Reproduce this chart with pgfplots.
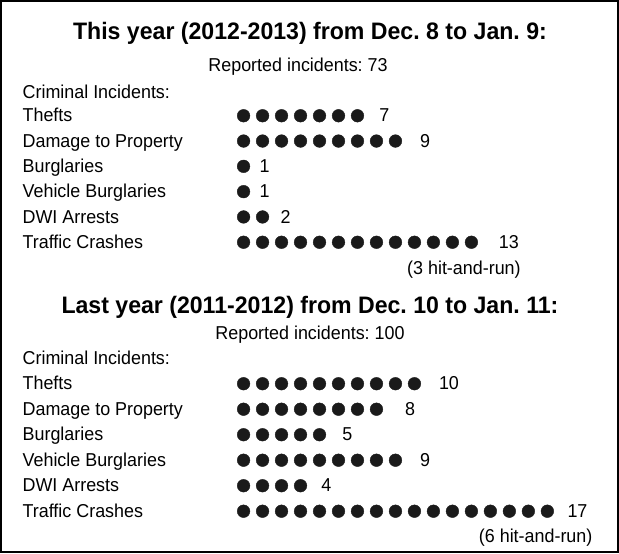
\documentclass[border=0pt]{standalone}
\usepackage{pgfplots}
\pgfplotsset{compat=1.18}
\usepackage{fontspec}
\setmainfont{Liberation Sans}
\newfontfamily\labfont{Liberation Sans}[FakeStretch=0.96]
\newfontfamily\ttlfont{Liberation Sans}[FakeStretch=0.97]
\definecolor{ink}{HTML}{1A1A1A}
\newcommand{\ttl}{\ttlfont\bfseries\fontsize{24}{28}\selectfont}
\newcommand{\lab}{\labfont\fontsize{18.8}{22}\selectfont}
\frenchspacing
\begin{document}
\begin{tikzpicture}
% text layer (pixel units)
\begin{axis}[
  scale only axis, width=619bp, height=553bp,
  xmin=0, xmax=619, ymin=0, ymax=553, y dir=reverse,
  axis line style={line width=2.4bp, black},
  ticks=none, clip=false,
  every node/.style={text=ink, inner sep=0pt},
]
\node[anchor=base] at (axis cs:310,38.5) {\ttl This year (2012-2013) from Dec. 8 to Jan. 9:};
\node[anchor=base] at (axis cs:298,71) {\lab Reported incidents: 73};
\node[anchor=base west] at (axis cs:18,97.3) {\lab Criminal Incidents:};
\node[anchor=base west] at (axis cs:18,121.2) {\lab Thefts};
\node[anchor=base west] at (axis cs:18,146.6) {\lab Damage to Property};
\node[anchor=base west] at (axis cs:18,172) {\lab Burglaries};
\node[anchor=base west] at (axis cs:18,197.4) {\lab Vehicle Burglaries};
\node[anchor=base west] at (axis cs:18,222.8) {\lab DWI Arrests};
\node[anchor=base west] at (axis cs:18,248.2) {\lab Traffic Crashes};
\node[anchor=base east] at (axis cs:525,274) {\lab (3 hit-and-run)};
\node[anchor=base west] at (axis cs:376,121.2) {\lab 7};
\node[anchor=base west] at (axis cs:417,146.6) {\lab 9};
\node[anchor=base west] at (axis cs:256,172) {\lab 1};
\node[anchor=base west] at (axis cs:256,197.4) {\lab 1};
\node[anchor=base west] at (axis cs:277,222.8) {\lab 2};
\node[anchor=base west] at (axis cs:496,248.2) {\lab 13};
%
\node[anchor=base] at (axis cs:310,313.5) {\ttl Last year (2011-2012) from Dec. 10 to Jan. 11:};
\node[anchor=base] at (axis cs:310,339.5) {\lab Reported incidents: 100};
\node[anchor=base west] at (axis cs:18,364.5) {\lab Criminal Incidents:};
\node[anchor=base west] at (axis cs:18,390.2) {\lab Thefts};
\node[anchor=base west] at (axis cs:18,415.8) {\lab Damage to Property};
\node[anchor=base west] at (axis cs:18,441.4) {\lab Burglaries};
\node[anchor=base west] at (axis cs:18,467) {\lab Vehicle Burglaries};
\node[anchor=base west] at (axis cs:18,492.6) {\lab DWI Arrests};
\node[anchor=base west] at (axis cs:18,518.2) {\lab Traffic Crashes};
\node[anchor=base east] at (axis cs:597,543.5) {\lab (6 hit-and-run)};
\node[anchor=base west] at (axis cs:436,390.2) {\lab 10};
\node[anchor=base west] at (axis cs:402,415.8) {\lab 8};
\node[anchor=base west] at (axis cs:339,441.4) {\lab 5};
\node[anchor=base west] at (axis cs:417,467) {\lab 9};
\node[anchor=base west] at (axis cs:318,492.6) {\lab 4};
\node[anchor=base west] at (axis cs:565,518.2) {\lab 17};
\end{axis}
% dot layer (x in dot-count units, y in pixel rows)
\begin{axis}[
  scale only axis, width=619bp, height=553bp,
  xmin=-11.765, xmax=20.711, ymin=0, ymax=553, y dir=reverse,
  hide axis, clip=false,
]
\pgfplotsset{dot/.style={only marks, mark=*, mark size=6.4, color=ink}}
% This year
\addplot[dot] coordinates {(1,115)(2,115)(3,115)(4,115)(5,115)(6,115)(7,115)};
\addplot[dot] coordinates {(1,140.4)(2,140.4)(3,140.4)(4,140.4)(5,140.4)(6,140.4)(7,140.4)(8,140.4)(9,140.4)};
\addplot[dot] coordinates {(1,165.8)};
\addplot[dot] coordinates {(1,191.2)};
\addplot[dot] coordinates {(1,216.6)(2,216.6)};
\addplot[dot] coordinates {(1,242)(2,242)(3,242)(4,242)(5,242)(6,242)(7,242)(8,242)(9,242)(10,242)(11,242)(12,242)(13,242)};
% Last year
\addplot[dot] coordinates {(1,384)(2,384)(3,384)(4,384)(5,384)(6,384)(7,384)(8,384)(9,384)(10,384)};
\addplot[dot] coordinates {(1,409.6)(2,409.6)(3,409.6)(4,409.6)(5,409.6)(6,409.6)(7,409.6)(8,409.6)};
\addplot[dot] coordinates {(1,435.2)(2,435.2)(3,435.2)(4,435.2)(5,435.2)};
\addplot[dot] coordinates {(1,460.8)(2,460.8)(3,460.8)(4,460.8)(5,460.8)(6,460.8)(7,460.8)(8,460.8)(9,460.8)};
\addplot[dot] coordinates {(1,486.4)(2,486.4)(3,486.4)(4,486.4)};
\addplot[dot] coordinates {(1,512)(2,512)(3,512)(4,512)(5,512)(6,512)(7,512)(8,512)(9,512)(10,512)(11,512)(12,512)(13,512)(14,512)(15,512)(16,512)(17,512)};
\end{axis}
\end{tikzpicture}
\end{document}
